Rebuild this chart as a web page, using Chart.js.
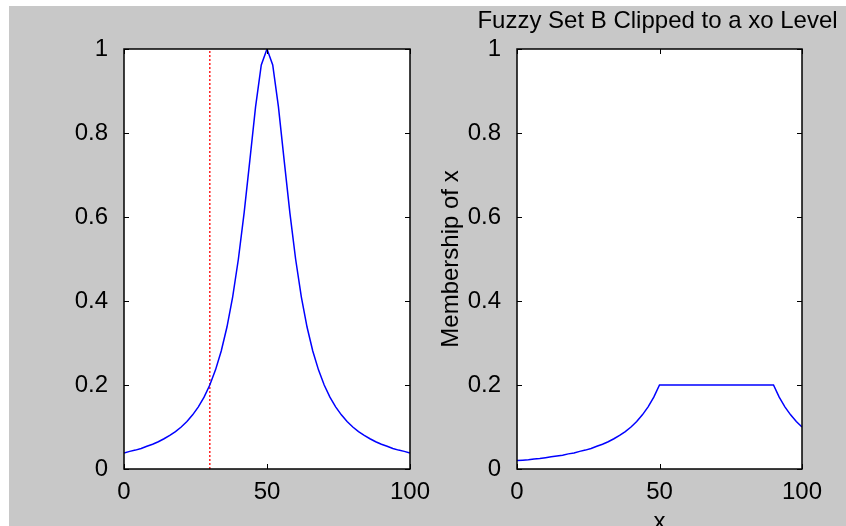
<!DOCTYPE html>
<html>
<head>
<meta charset="utf-8">
<script src="https://cdn.jsdelivr.net/npm/chart.js@4.4.0/dist/chart.umd.min.js"></script>
<style>
  html, body { margin: 0; padding: 0; width: 846px; height: 526px; overflow: hidden; background: #fff; }
  #fig { position: absolute; left: 9px; top: 6px; right: 0; bottom: 0; background: #c8c8c8; }
  canvas { position: absolute; top: 0; }
</style>
</head>
<body>
<div id="fig"></div>
<canvas id="leftPlot" width="440" height="540" style="left:0px"></canvas>
<canvas id="rightPlot" width="423" height="540" style="left:423px"></canvas>
<script>
// tick labels
const xTicks = [0, 50, 100];
const yTicks = [0, 0.2, 0.4, 0.6, 0.8, 1];

// left: fuzzy set B with the xo cut
const leftX = [0, 2, 4, 6, 8, 10, 12, 14, 16, 18, 20, 22, 24, 26, 28, 30, 32, 34, 36, 38, 40, 42, 44, 46, 48,
  50, 52, 54, 56, 58, 60, 62, 64, 66, 68, 70, 72, 74, 76, 78, 80, 82, 84, 86, 88, 90, 92, 94, 96, 98, 100];
const leftY = [0.038, 0.042, 0.045, 0.049, 0.054, 0.059, 0.065, 0.072, 0.080, 0.089, 0.100, 0.113, 0.129,
  0.148, 0.171, 0.200, 0.236, 0.281, 0.338, 0.410, 0.500, 0.610, 0.735, 0.862, 0.962, 1.000,
  0.962, 0.862, 0.735, 0.610, 0.500, 0.410, 0.338, 0.281, 0.236, 0.200, 0.171, 0.148, 0.129,
  0.113, 0.100, 0.089, 0.080, 0.072, 0.065, 0.059, 0.054, 0.049, 0.045, 0.042, 0.038];
const cutX = [30, 30];
const cutY = [0, 1];

// right: clipped set
const rightX = [0, 2, 4, 6, 8, 10, 12, 14, 16, 18, 20, 22, 24, 26, 28, 30, 32, 34, 36, 38, 40, 42, 44, 46, 48, 50,
  90, 92, 94, 96, 98, 100];
const rightY = [0.020, 0.021, 0.022, 0.024, 0.025, 0.027, 0.029, 0.031, 0.033, 0.036, 0.038, 0.042, 0.045,
  0.049, 0.054, 0.059, 0.065, 0.072, 0.080, 0.089, 0.100, 0.113, 0.129, 0.148, 0.171, 0.200,
  0.200, 0.171, 0.148, 0.129, 0.113, 0.100];

const titleText = 'Fuzzy Set B Clipped to a xo Level';
const yTitle = 'Membership of x';
const xTitle = 'x';

const FONT = { family: '"Liberation Sans", Arial, sans-serif', size: 24 };
const toPoints = (xs, ys) => xs.map((x, i) => ({ x: x, y: ys[i] }));

// white axes background, box and inward ticks (matlab style)
const axesBox = {
  id: 'axesBox',
  beforeDraw(chart) {
    const { ctx, chartArea: a } = chart;
    ctx.save();
    ctx.fillStyle = '#fff';
    ctx.fillRect(a.left, a.top, a.right - a.left, a.bottom - a.top);
    ctx.restore();
  },
  afterDraw(chart) {
    const { ctx, chartArea: a, scales } = chart;
    ctx.save();
    ctx.strokeStyle = '#000';
    ctx.lineWidth = 1;
    ctx.beginPath();
    scales.x.ticks.forEach(t => {
      const px = Math.round(scales.x.getPixelForValue(t.value)) + 0.5;
      ctx.moveTo(px, a.bottom); ctx.lineTo(px, a.bottom - 5);
      ctx.moveTo(px, a.top); ctx.lineTo(px, a.top + 5);
    });
    scales.y.ticks.forEach(t => {
      const py = Math.round(scales.y.getPixelForValue(t.value)) + 0.5;
      ctx.moveTo(a.left, py); ctx.lineTo(a.left + 5, py);
      ctx.moveTo(a.right, py); ctx.lineTo(a.right - 5, py);
    });
    ctx.stroke();
    ctx.lineWidth = 1.5;
    ctx.strokeRect(a.left, a.top, a.right - a.left, a.bottom - a.top);
    ctx.restore();
  }
};

// axes title, may run wider than the axes like in matlab
const axesTitle = {
  id: 'axesTitle',
  afterDraw(chart, args, opts) {
    if (!opts.text) return;
    const { ctx, chartArea: a } = chart;
    ctx.save();
    ctx.font = FONT.size + 'px ' + FONT.family;
    ctx.fillStyle = '#000';
    ctx.textAlign = 'center';
    ctx.textBaseline = 'alphabetic';
    ctx.fillText(opts.text, (a.left + a.right) / 2 - 2, 28);
    ctx.restore();
  }
};

function makeScales(yWidth, withTitles) {
  return {
    x: {
      type: 'linear', min: 0, max: 100,
      afterBuildTicks: s => { s.ticks = xTicks.map(v => ({ value: v })); },
      afterFit: s => { s.height = 540 - 469; },
      grid: { display: false },
      border: { display: false },
      ticks: { color: '#000', font: FONT, padding: 1, maxRotation: 0, autoSkip: false, callback: v => String(v) },
      title: { display: withTitles, text: xTitle, color: '#000', font: FONT, padding: { top: 0, bottom: 3 } }
    },
    y: {
      type: 'linear', min: 0, max: 1,
      afterBuildTicks: s => { s.ticks = yTicks.map(v => ({ value: v })); },
      afterFit: s => { s.width = yWidth; },
      grid: { display: false },
      border: { display: false },
      ticks: { color: '#000', font: FONT, padding: 8, autoSkip: false, callback: v => String(v) },
      title: { display: withTitles, text: yTitle, color: '#000', font: FONT, padding: { top: 14, bottom: 0 } }
    }
  };
}

const lineStyle = { borderColor: '#0000ff', borderWidth: 1.5, pointRadius: 0, fill: false, tension: 0 };

new Chart(document.getElementById('leftPlot').getContext('2d'), {
  type: 'line',
  data: {
    datasets: [
      Object.assign({ data: toPoints(leftX, leftY) }, lineStyle),
      { data: toPoints(cutX, cutY), borderColor: '#ff2020', borderWidth: 1.5, borderDash: [2, 2], pointRadius: 0, fill: false }
    ]
  },
  options: {
    responsive: false,
    animation: false,
    layout: { padding: { top: 49, right: 30, left: 0, bottom: 0 } },
    scales: makeScales(124, false),
    plugins: { legend: { display: false }, tooltip: { enabled: false }, axesTitle: { text: '' } }
  },
  plugins: [axesBox, axesTitle]
});

new Chart(document.getElementById('rightPlot').getContext('2d'), {
  type: 'line',
  data: {
    datasets: [Object.assign({ data: toPoints(rightX, rightY) }, lineStyle)]
  },
  options: {
    responsive: false,
    animation: false,
    layout: { padding: { top: 49, right: 44, left: 0, bottom: 0 } },
    scales: makeScales(94, true),
    plugins: { legend: { display: false }, tooltip: { enabled: false }, axesTitle: { text: titleText } }
  },
  plugins: [axesBox, axesTitle]
});
</script>
</body>
</html>
